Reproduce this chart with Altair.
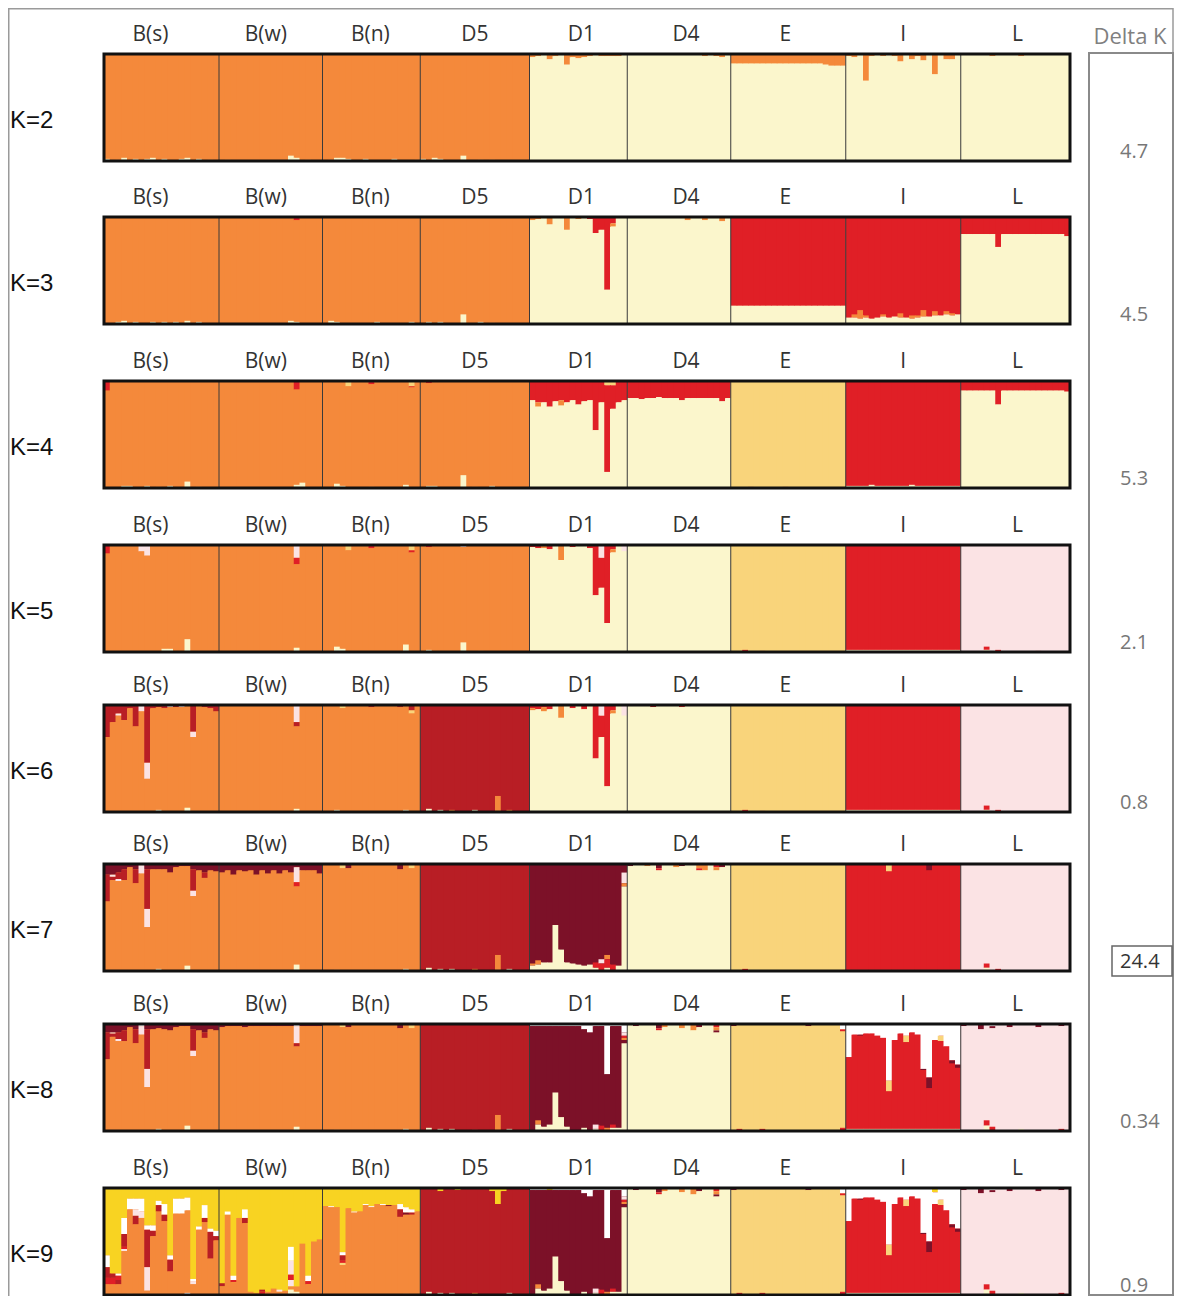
import altair as alt
import pandas as pd

# ---------------- data ----------------
POPS = ["B(s)", "B(w)", "B(n)", "D5", "D1", "D4", "E", "I", "L"]
N_IND = [20, 18, 17, 19, 17, 18, 20, 20, 19]
K_VALUES = [2, 3, 4, 5, 6, 7, 8, 9]
DELTA_K = ["4.7", "4.5", "5.3", "2.1", "0.8", "24.4", "0.34", "0.9"]
BEST_K = 7

CLUSTERS = ["O", "Y", "R", "T", "P", "D", "M", "W", "G"]
CLUSTER_COLORS = ["#F4893B", "#FBF6CC", "#E01F26", "#F9D47B", "#FBE3E4",
                  "#B81E25", "#7C1128", "#FFFFFF", "#F8D322"]

# per population: (dominant cluster, top segments, bottom segments)
# "idx:C12.D3" -> individual idx has C 12% then D 3% (from the top / from the bottom)
K2 = {
    "B(s)": ("O", "", "0:Y2 2:Y1 3:Y3 5:Y2 7:Y2 8:Y3 10:Y2 13:Y2 14:Y3 16:Y2 18:Y1"),
    "B(w)": ("O", "", "1:Y1 12:Y5 13:Y3 15:Y1"),
    "B(n)": ("O", "", "1:Y1 2:Y3 3:Y3 4:Y2 7:Y2 12:Y2 16:Y1"),
    "D5": ("O", "", "0:Y2 2:Y3 3:Y2 7:Y5 10:Y1 12:Y1"),
    "D1": ("Y", "0:O3 1:O2 3:O5 4:O2 6:O10 7:O3 8:O4 9:O3 10:O2 12:O2 13:O2 14:O2 15:O2", ""),
    "D4": ("Y", "3:O1 8:O1 13:O2 15:O2 16:O3", ""),
    "E": ("Y", "*:O9 16:O10 17:O11 18:O11 19:O11", ""),
    "I": ("Y", "0:O2 1:O3 3:O25 4:O2 6:O2 8:O2 9:O7 11:O5 12:O2 13:O6 15:O19 17:O5 18:O5", ""),
    "L": ("Y", "*:O1 5:O2 10:O2", ""),
}
K3 = {
    "B(s)": ("O", "4:R1", "2:Y2 3:Y3 5:Y2 8:Y2 10:Y2 12:Y2 14:Y3 16:Y2"),
    "B(w)": ("O", "13:R3", "12:Y3 13:Y2"),
    "B(n)": ("O", "8:R1", "1:Y3 2:Y2 9:Y2 15:Y2"),
    "D5": ("O", "", "1:Y2 3:Y2 7:Y9 10:Y2 12:Y1"),
    "D1": ("Y", "0:O3 1:O2 3:O7 6:O12 8:O2 10:R2 11:R15 12:R12 13:R68 14:R6.O3 15:O1", ""),
    "D4": ("Y", "*:O1 10:O3 13:O3 16:O4", ""),
    "E": ("Y", "*:R83", ""),
    "I": ("R", "", "0:Y6 1:Y6.O3 2:Y5.O8 3:Y6.O2 4:Y5 5:Y6 6:Y7.O2 7:Y6 8:Y7 9:Y6.O4 10:Y6 "
                    "11:Y5.O3 12:Y6.O2 13:Y7.O6 14:Y7 15:Y8.O4 16:Y8 17:Y9.O3 18:Y8.O2 19:Y9"),
    "L": ("Y", "*:R16 6:R28 18:R18", ""),
}
K4 = {
    "B(s)": ("O", "0:R9 2:R1 6:R1 9:R1", "3:Y2 4:Y2 7:Y2 9:Y1 11:Y2 14:Y6 16:Y1"),
    "B(w)": ("O", "13:R8", "13:Y3 14:Y5"),
    "B(n)": ("O", "4:T5 8:R3 15:T5.R1", "2:Y4 3:Y2 8:Y1 14:Y3"),
    "D5": ("O", "1:R2 3:R1", "1:Y2 2:Y2 7:Y12 9:Y1 12:Y2"),
    "D1": ("Y", "0:R18 1:R20.O4 2:R20 3:R24 4:R19 5:R18.O5 6:R20 7:R18 8:R22 9:R19 10:R18 "
                "11:R46 12:R20 13:T4.R81 14:T4.R22 15:R20 16:R18", ""),
    "D4": ("Y", "*:R16 2:R17 5:R15 9:R18 12:R16 16:R19", ""),
    "E": ("T", "", "3:R1 9:R1"),
    "I": ("R", "2:O1", "*:Y2 4:Y3 11:Y3"),
    "L": ("Y", "*:R9 6:R22 18:R10", ""),
}
K5 = {
    "B(s)": ("O", "0:R8 6:P6 7:P10 11:R1", "10:Y3 11:Y3 14:Y12"),
    "B(w)": ("O", "13:P12.R6", "13:Y4"),
    "B(n)": ("O", "4:T5 8:R3 15:T5.R2", "2:Y5 3:Y3 14:Y7"),
    "D5": ("O", "1:R2 3:R1 7:P2", "1:Y2 7:Y9 10:Y1"),
    "D1": ("Y", "0:R2 1:R3 2:O3 3:R4 5:O14 7:R2 10:R3 11:R47 12:P12.R28 13:R73 14:R4.O3 16:P6", ""),
    "D4": ("Y", "*:R1", ""),
    "E": ("T", "", "2:R2 5:R1"),
    "I": ("R", "", "*:Y2"),
    "L": ("P", "", "4:Y2.R3 6:R2 13:R1"),
}
K6 = {
    "B(s)": ("O", "0:D30 1:D16 2:D8.P2 3:D14 4:D3 5:D20 6:P6 7:D54.P15 8:D3 9:D2 10:D3 11:P2 "
                  "12:D2 13:P2 15:D25.P5 17:D2 18:D3 19:D6", "9:Y2 14:Y4"),
    "B(w)": ("O", "*:D1 13:P16.D4", "13:Y3"),
    "B(n)": ("O", "3:T3 8:D2 13:D2 15:D5.T3", "2:Y2 14:Y2"),
    "D5": ("D", "", "1:Y3 3:Y2 5:O2 9:Y2 13:O15 15:O2"),
    "D1": ("Y", "0:R3.O2 1:R4 2:R2.O4 3:R4 5:O12 7:R3 9:R4 11:R50 12:P10.R20 13:R76 14:R5.O3 16:P10", ""),
    "D4": ("Y", "*:R1 4:D2 9:R2", ""),
    "E": ("T", "", "2:R2 5:R1"),
    "I": ("R", "*:D1", "*:Y2"),
    "L": ("P", "", "4:Y2.R4 6:R2"),
}
K7 = {
    "B(s)": ("O", "0:M10.D25 1:M10.P2.D3 2:M8.D6.P2 3:M5.D10 4:M3 5:M5.D13 6:M1.P8 7:M5.D37.P17 "
                  "8:M5 9:M5 10:M5 11:M8 12:M3 13:M2 14:M2 15:M5.D20.P5 16:M6 17:M8.D5 18:M6 19:M7",
             "9:Y2 14:Y5"),
    "B(w)": ("O", "*:M6 0:M8 2:M10 4:M7 6:M10 8:M9 10:M9 12:M8 13:M3.P14.R4 15:M6 17:M9", "13:Y6"),
    "B(n)": ("O", "3:T4 4:M4 13:M5 15:T4", "2:Y1 14:Y2"),
    "D5": ("D", "*:M1", "1:Y3 3:Y2 5:Y2 9:O2 13:O15 15:Y2"),
    "D1": ("M", "16:M8.P10.O3", "0:Y5.O2 1:Y6.O4 2:Y8 3:Y8 4:Y43 5:Y20 6:Y8 7:Y7 8:Y6 9:Y5 10:Y6 "
                               "11:Y3.R5 12:R7.P4 13:Y3.R8.O4 14:R6 15:Y5 16:Y79"),
    "D4": ("Y", "0:M2 3:O2 5:M4.R2 8:O3 9:M2 12:O4.R2 13:O6 15:R3.O3 16:M3", ""),
    "E": ("T", "", "2:R2"),
    "I": ("R", "*:M1 7:T7 14:M6", "*:Y1"),
    "L": ("P", "", "4:Y3.R4 6:R2"),
}
K8 = {
    "B(s)": ("O", "0:M8.D25 1:M8.W1.D3 2:M8.D6.P2 3:M6.D10 4:M3 5:M5.D13 6:W2.P8 7:M5.D37.P17 "
                  "8:M5 9:M4 10:M5 11:M6 12:M3 13:M2 14:M2 15:M5.D20.P5 16:M6 17:M8.D5 18:M5 19:M6",
             "9:Y2 14:Y5"),
    "B(w)": ("O", "*:M2 0:M3 4:M3 13:W2.P16.D3", "13:Y4"),
    "B(n)": ("O", "3:T3 4:M3 13:M4 15:T4", "2:Y1 14:Y2"),
    "D5": ("D", "*:W1", "1:Y3 3:Y2 5:Y2 9:Y1 13:O15 15:Y2"),
    "D1": ("M", "*:W2 9:W5 10:W8 13:W47 16:W8.P3.R2.O2",
           "1:Y6.O4 2:Y4 3:Y6 4:Y36 5:Y13 6:Y4 9:Y3 11:Y2.P4 12:R5 13:O3 14:Y3.R3 15:Y3 16:Y82"),
    "D4": ("Y", "1:M2 5:M4.R2 6:O3 9:O4 11:O6 12:M3 15:R3.O3.M2", ""),
    "E": ("T", "0:M2 13:M2 19:W5.R2", "1:R2 5:R2 19:R3"),
    "I": ("R", "0:W31 1:W10 2:W10.M1 3:W9 4:W9 5:W11 6:W13 7:W53.T10 8:W15 9:W9 10:W11.T6 11:W8 "
               "12:W10 13:W42.M1 14:W50.M10 15:W15 16:W11.T5 17:W21 18:W34.M3 19:W38.M3", "*:Y2"),
    "L": ("P", "0:M2 3:M5 5:W2.M2 8:M3 13:M3 17:M2", "4:Y5.R5 5:R4 10:Y2 17:R2"),
}
K9 = {
    "B(s)": ("O", "0:G63.W11.D10.R6 1:G80.D4.R6 2:G80.W2.R4.D4 3:G28.W15.D12.R2.P2 4:G10.W10 "
                  "5:G10.W10.P6.D8 6:G10.W12.P6 7:G35.W4.D35.P22 8:G35.W5.D5 9:G12.W4.D6 "
                  "10:G15.W10.D6 11:G63.W4.D11 12:G10.W14 13:G10.W14 14:G9.W12 15:G85.W2.P3 "
                  "16:G36.W3 17:G16.W12.D4 18:G38.W3.D25 19:G40.W5.D4", "4:Y1 14:W2"),
    "B(w)": ("G", "0:G89.D3 1:G22.W3 2:G82.W4.R2 3:G28 4:G20.W8.D5 5:G97 6:G98 7:G95.D2.R2 8:G97 "
                  "9:G94 10:G95.P2 11:G96 12:G55.W13.P13.R5.P6 13:G92 14:G52 15:G82.W5.R3 16:G50 17:G48",
             "0:O8 1:O75 2:O12 3:O72 4:O67 5:O3 6:O2 7:O1 8:O3 9:O6 10:O3 11:O4 12:Y5.O3 13:Y3.O5 "
             "14:O48 15:O10 16:O50 17:O52"),
    "B(n)": ("O", "0:G17 1:G17.W1 2:G18 3:G60.W3.D5.R2.T2 4:G19 5:G22.W1 6:G22 7:G15.W1 8:G17.W1 "
                  "9:G15 10:G15.W1 11:G16.M1 12:G16 13:G15.W5.D7 14:G18.W5.M2 15:G20.W3.D2 16:G22",
             "14:Y1"),
    "D5": ("D", "*:W1 3:G3 6:G2 12:G3 13:G15 14:G3", "1:Y3 3:Y2 5:Y2 9:O2 15:Y2"),
    "D1": ("M", "*:W2 3:G2 9:W5 10:W8 13:W47 16:W8.P3.R2.O2",
           "1:Y6.O4 2:Y4 3:Y6 4:Y36 5:Y13 6:Y4 9:Y3 11:Y2.P4 12:R5 13:O3 14:Y3.R3 15:Y3 16:Y82"),
    "D4": ("Y", "1:M2 5:M4.R2 6:O3 9:O4 11:O6 12:M3 15:R3.O3.M2", ""),
    "E": ("T", "0:M2 13:M2 19:W5.R2", "1:R2 5:R2 19:R3"),
    "I": ("R", "0:W31 1:W10 2:W10.M1 3:W9 4:W9 5:W11 6:W13 7:W53.T10 8:W15 9:W9 10:W11.T6 11:W8 "
               "12:W10 13:W42.M1 14:W50.M10 15:G4.W11 16:W11.T5 17:W21 18:W34.M3 19:W38.M3", "*:Y2"),
    "L": ("P", "0:M2 3:M5 5:W2.M2 8:M3 13:M3 17:M2", "4:Y5.R5 5:R4 10:Y2 17:R2"),
}
SPECS = [K2, K3, K4, K5, K6, K7, K8, K9]

# ---------------- layout ----------------
W, H = 1166, 1288
PANEL_X0, PANEL_W = 96, 966
ROW_TOP = [46, 209, 373, 537, 697, 856, 1016, 1180]
PANEL_H = 107
LABEL_DX = [-11, -5, -1, 0, 3, 7, -3, 0, 2]   # label offsets in px from the population centre
N_TOTAL = sum(N_IND)
IND_W = PANEL_W / N_TOTAL
OVERLAP = 1.0 / IND_W   # one pixel of overlap between neighbouring bars (hides seams)


def ux(px):
    return (px - PANEL_X0) / IND_W


def parse(spec, n):
    out = {}
    for tok in spec.split():
        key, segs = tok.split(":")
        seglist = [(s[0], float(s[1:])) for s in segs.split(".")]
        keys = range(n) if key == "*" else [int(key)]
        for k in keys:
            out[k] = seglist
    return out


records, bg = [], []
bounds = [sum(N_IND[:k]) for k in range(len(N_IND) + 1)]
for r, spec in enumerate(SPECS):
    for p, pop in enumerate(POPS):
        dom, top, bot = spec[pop]
        n = N_IND[p]
        g = bounds[p]
        bg.append(dict(x=g, x2=g + n, y=ROW_TOP[r], y2=ROW_TOP[r] + PANEL_H, cluster=dom))
        tops, bots = parse(top, n), parse(bot, n)
        for i in range(n):
            t = tops.get(i, [])
            b = bots.get(i, [])
            rest = 100 - sum(v for _, v in t) - sum(v for _, v in b)
            segs = t + [(dom, max(rest, 0))] + list(reversed(b))
            for order, (c, v) in enumerate(segs):
                if v > 0:
                    records.append(dict(row=r, ind=g + i, last=(i == n - 1), cluster=c,
                                        order=order, q=v, top=ROW_TOP[r]))
seg_df = pd.DataFrame(records)
bg_df = pd.DataFrame(bg)

panel_df = pd.DataFrame([dict(x=0, x2=N_TOTAL, y=t, y2=t + PANEL_H) for t in ROW_TOP])
sep_df = pd.DataFrame([dict(x=b, y=t, y2=t + PANEL_H) for t in ROW_TOP for b in bounds[1:-1]])
pop_df = pd.DataFrame([dict(x=(bounds[p] + bounds[p + 1]) / 2 + LABEL_DX[p] / IND_W, y=t - 19, text=POPS[p])
                       for t in ROW_TOP for p in range(len(POPS))])
k_df = pd.DataFrame([dict(x=ux(2), y=t + PANEL_H / 2 + 13, text=f"K={k}")
                     for t, k in zip(ROW_TOP, K_VALUES)])
dk_df = pd.DataFrame([dict(x=ux(1112), y=t + PANEL_H - 9.5, text=v, best=(k == BEST_K))
                      for t, k, v in zip(ROW_TOP, K_VALUES, DELTA_K)])
bt = ROW_TOP[K_VALUES.index(BEST_K)] + PANEL_H - 10
best_df = pd.DataFrame([dict(x=ux(1104), x2=ux(1164), y=bt - 15, y2=bt + 15)])
dkbox_df = pd.DataFrame([dict(x=ux(1081), x2=ux(W - 1), y=45, y2=H - 1)])
dktitle_df = pd.DataFrame([dict(x=ux(1122), y=29, text="Delta K")])
frame_v = pd.DataFrame([dict(x=ux(0.75), y=0, y2=H), dict(x=ux(W - 1), y=0, y2=45)])
frame_h = pd.DataFrame([dict(x=ux(0), x2=ux(W - 1), y=0.75)])

xs = alt.Scale(domain=[ux(0), ux(W)], nice=False, zero=False)
ys = alt.Scale(domain=[0, H], reverse=True, nice=False, zero=False)
cscale = alt.Scale(domain=CLUSTERS, range=CLUSTER_COLORS)

X = lambda f: alt.X(f, scale=xs, axis=None)
Y = lambda f: alt.Y(f, scale=ys, axis=None)

background = alt.Chart(bg_df).mark_rect().encode(
    x=X("x:Q"), x2="x2:Q", y=Y("y:Q"), y2="y2:Q",
    color=alt.Color("cluster:N", scale=cscale, legend=None))

bars = (
    alt.Chart(seg_df)
    .transform_stack(stack="q", groupby=["row", "ind"], as_=["q0", "q1"],
                     sort=[alt.SortField(field="order", order="ascending")])
    .transform_calculate(
        y0=f"datum.top + datum.q0 * {PANEL_H} / 100",
        y1=f"datum.top + datum.q1 * {PANEL_H} / 100",
        ind2=f"datum.ind + 1 + (datum.last ? 0 : {OVERLAP})",
    )
    .mark_rect()
    .encode(
        x=X("ind:Q"), x2="ind2:Q", y=Y("y0:Q"), y2="y1:Q",
        color=alt.Color("cluster:N", scale=cscale, legend=None),
        order=alt.Order("ind:Q"),
    )
)

seps = alt.Chart(sep_df).mark_rule(color="#3a3a3a", strokeWidth=1).encode(
    x=X("x:Q"), y=Y("y:Q"), y2="y2:Q")
panels = alt.Chart(panel_df).mark_rect(fillOpacity=0, stroke="#111111", strokeWidth=3).encode(
    x=X("x:Q"), x2="x2:Q", y=Y("y:Q"), y2="y2:Q")
pop_text = alt.Chart(pop_df).mark_text(font="Open Sans", fontSize=21, color="#333333",
                                        baseline="middle", align="center").encode(
    x=X("x:Q"), y=Y("y:Q"), text="text:N")
k_text = alt.Chart(k_df).mark_text(font="Liberation Sans", fontSize=24, color="#111111",
                                    baseline="middle", align="left").encode(
    x=X("x:Q"), y=Y("y:Q"), text="text:N")
dk_text = alt.Chart(dk_df).mark_text(font="Open Sans", fontSize=20, baseline="middle", align="left").encode(
    x=X("x:Q"), y=Y("y:Q"), text="text:N",
    color=alt.condition("datum.best", alt.value("#333333"), alt.value("#777777")))
best_box = alt.Chart(best_df).mark_rect(fillOpacity=0, stroke="#666666", strokeWidth=1.5).encode(
    x=X("x:Q"), x2="x2:Q", y=Y("y:Q"), y2="y2:Q")
dk_box = alt.Chart(dkbox_df).mark_rect(fillOpacity=0, stroke="#8a8a8a", strokeWidth=2).encode(
    x=X("x:Q"), x2="x2:Q", y=Y("y:Q"), y2="y2:Q")
dk_title = alt.Chart(dktitle_df).mark_text(font="Open Sans", fontSize=22, color="#808080",
                                           baseline="middle", align="center").encode(
    x=X("x:Q"), y=Y("y:Q"), text="text:N")
fv = alt.Chart(frame_v).mark_rule(color="#9a9a9a", strokeWidth=1.5).encode(
    x=X("x:Q"), y=Y("y:Q"), y2="y2:Q")
fh = alt.Chart(frame_h).mark_rule(color="#9a9a9a", strokeWidth=1.5).encode(
    x=X("x:Q"), x2="x2:Q", y=Y("y:Q"))

chart = (
    alt.layer(fv, fh, dk_box, background, bars, seps, panels, pop_text, k_text, dk_title, best_box, dk_text)
    .properties(width=W, height=H, padding=0, autosize=alt.AutoSizeParams(type="none"))
    .configure_view(strokeWidth=0)
)

chart.save("out.html", embed_options={"renderer": "svg", "actions": False})
